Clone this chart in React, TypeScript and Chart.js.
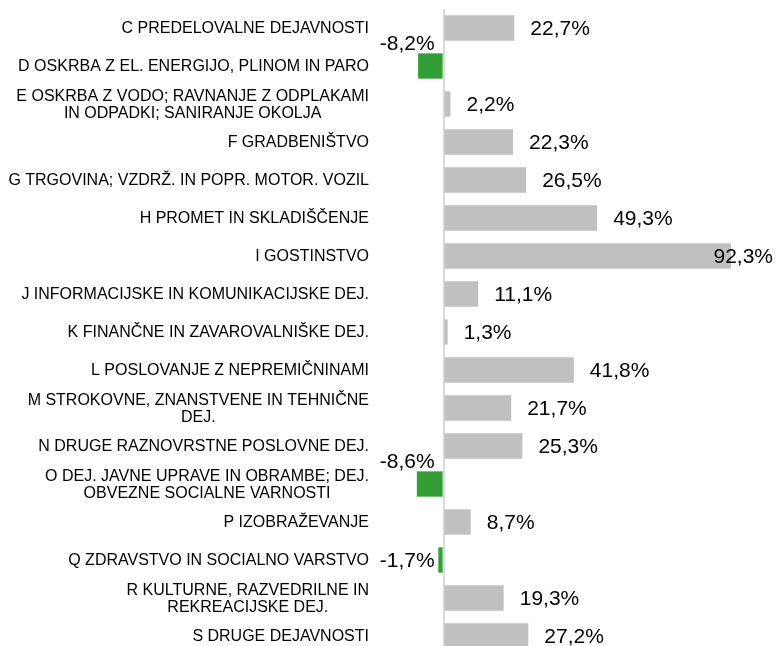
import React, { useEffect, useRef } from "react";
import { Chart, registerables } from "chart.js";

Chart.register(...registerables);

const categories: (string | string[])[] = [
  "C PREDELOVALNE DEJAVNOSTI",
  "D OSKRBA Z EL. ENERGIJO, PLINOM IN PARO",
  ["E OSKRBA Z VODO; RAVNANJE Z ODPLAKAMI", "IN ODPADKI; SANIRANJE OKOLJA"],
  "F GRADBENIŠTVO",
  "G TRGOVINA; VZDRŽ. IN POPR. MOTOR. VOZIL",
  "H PROMET IN SKLADIŠČENJE",
  "I GOSTINSTVO",
  "J INFORMACIJSKE IN KOMUNIKACIJSKE DEJ.",
  "K FINANČNE IN ZAVAROVALNIŠKE DEJ.",
  "L POSLOVANJE Z NEPREMIČNINAMI",
  ["M STROKOVNE, ZNANSTVENE IN TEHNIČNE", "DEJ."],
  "N DRUGE RAZNOVRSTNE POSLOVNE DEJ.",
  ["O DEJ. JAVNE UPRAVE IN OBRAMBE; DEJ.", "OBVEZNE SOCIALNE VARNOSTI"],
  "P IZOBRAŽEVANJE",
  "Q ZDRAVSTVO IN SOCIALNO VARSTVO",
  ["R KULTURNE, RAZVEDRILNE IN", "REKREACIJSKE DEJ."],
  "S DRUGE DEJAVNOSTI",
];

const values: number[] = [
  22.7, -8.2, 2.2, 22.3, 26.5, 49.3, 92.3, 11.1, 1.3, 41.8, 21.7, 25.3, -8.6, 8.7, -1.7, 19.3, 27.2,
];

const POS_COLOR = "#c0c0c0";
const NEG_COLOR = "#339e35";
const FONT = '"Liberation Sans", Arial, sans-serif';

const fmt = (v: number) => v.toFixed(1).replace(".", ",") + "%";

const categoryLabels = {
  id: "categoryLabels",
  afterDraw(chart: any) {
    const ctx = chart.ctx;
    const yScale = chart.scales.y;
    const right = chart.chartArea.left - 3;
    const lh = 16.7;
    ctx.save();
    ctx.font = `16px ${FONT}`;
    ctx.fillStyle = "#000";
    ctx.textBaseline = "middle";
    ctx.textAlign = "center";
    categories.forEach((c, i) => {
      const lines = Array.isArray(c) ? c : [c];
      const blockW = Math.max(...lines.map((l) => ctx.measureText(l).width));
      const cx = right - blockW / 2;
      const yc = yScale.getPixelForValue(i) + 1;
      const y0 = yc - ((lines.length - 1) * lh) / 2;
      lines.forEach((l, j) => ctx.fillText(l, cx, y0 + j * lh));
    });
    ctx.restore();
  },
};

const valueLabels = {
  id: "valueLabels",
  afterDatasetsDraw(chart: any) {
    const ctx = chart.ctx;
    const meta = chart.getDatasetMeta(0);
    const zero = chart.scales.x.getPixelForValue(0);
    ctx.save();
    ctx.font = `21px ${FONT}`;
    ctx.fillStyle = "#000";
    ctx.textBaseline = "middle";
    meta.data.forEach((el: any, i: number) => {
      const v = values[i];
      const text = fmt(v);
      const w = ctx.measureText(text).width;
      let y = el.y + 1;
      if (v >= 0) {
        ctx.textAlign = "left";
        const x = Math.min(el.x + 16, 773 - w);
        ctx.fillText(text, x, y);
      } else {
        ctx.textAlign = "right";
        if (Math.abs(v) > 5) y -= 23;
        ctx.fillText(text, zero - 9, y);
      }
    });
    ctx.restore();
  },
};

export default function App() {
  const ref = useRef<HTMLCanvasElement | null>(null);
  useEffect(() => {
    if (!ref.current) return;
    Chart.defaults.font.family = FONT;
    const chart = new Chart(ref.current, {
      type: "bar",
      data: {
        labels: categories,
        datasets: [
          {
            data: values,
            backgroundColor: values.map((v) => (v < 0 ? NEG_COLOR : POS_COLOR)),
            borderWidth: 0,
            categoryPercentage: 1,
            barPercentage: 0.666,
          },
        ],
      },
      options: {
        indexAxis: "y",
        responsive: false,
        animation: false,
        layout: { padding: { top: 9, bottom: 5, left: 0, right: 21 } },
        plugins: { legend: { display: false }, tooltip: { enabled: false } },
        scales: {
          x: {
            min: -23,
            max: 100,
            afterBuildTicks: (scale: any) => {
              scale.ticks = [{ value: 0 }];
            },
            ticks: { display: false },
            border: { display: false },
            grid: { color: "#d9d9d9", lineWidth: 2, drawTicks: false },
          },
          y: {
            afterFit: (scale: any) => {
              scale.width = 372;
            },
            ticks: { display: false, autoSkip: false },
            grid: { display: false, drawTicks: false },
            border: { display: false },
          },
        },
      },
      plugins: [valueLabels, categoryLabels],
    } as any);
    return () => chart.destroy();
  }, []);
  return (
    <div style={{ position: "fixed", left: 0, top: 0, width: 776, height: 646, overflow: "hidden", background: "#fff" }}>
      <canvas ref={ref} width={776} height={660} style={{ width: 776, height: 660, display: "block" }} />
    </div>
  );
}
